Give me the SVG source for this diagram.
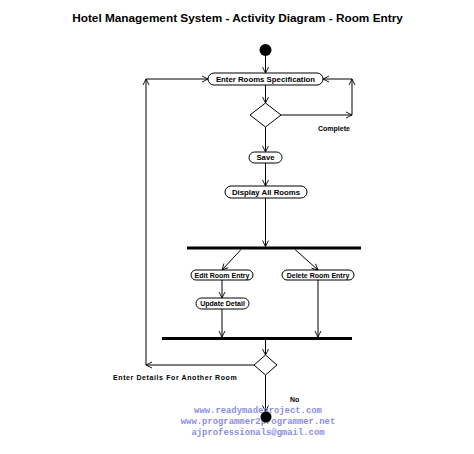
<svg xmlns="http://www.w3.org/2000/svg" width="474" height="454" viewBox="0 0 474 454">
<style>
.t{font-family:"Liberation Sans",Arial,sans-serif;font-weight:bold;fill:#000}
.title{font-size:11.8px}
.lbl{font-size:7px}
.node rect{fill:#fff;stroke:#000;stroke-width:1}
.node text{font-family:"Liberation Sans",Arial,sans-serif;font-weight:bold;font-size:7.8px;text-anchor:middle}
.node text.s{font-size:7px}
.c line{stroke:#000;stroke-width:1;fill:none;marker-end:url(#a)}
.bar{fill:#000}
.wm{font-family:"Liberation Mono","Courier New",monospace;font-weight:bold;font-size:8.9px;fill:#8c8ce6;text-anchor:middle}
</style>
<defs>
<marker id="a" markerWidth="8" markerHeight="8" refX="7" refY="4" orient="auto" markerUnits="userSpaceOnUse">
<path d="M1,1 L7,4 L1,7" fill="none" stroke="#000" stroke-width="0.9"/>
</marker>
</defs>
<text class="t title" x="237.5" y="22" text-anchor="middle">Hotel Management System - Activity Diagram - Room Entry</text>

<g id="start"><circle cx="265.5" cy="50" r="6" fill="#000"/></g>
<g id="enter" class="node"><rect x="208" y="73" width="115" height="12" rx="6"/><text x="265.5" y="81.8">Enter Rooms Specification</text></g>
<g id="dec1"><polygon points="265.5,103 281,115 265.5,127 250,115" fill="#fff" stroke="#000"/></g>
<g id="save" class="node"><rect x="249" y="152" width="33" height="11" rx="5.5"/><text x="265.5" y="160.3">Save</text></g>
<g id="display" class="node"><rect x="225" y="186" width="82" height="12" rx="6"/><text x="266" y="194.8">Display All Rooms</text></g>
<g id="fork"><rect class="bar" x="187" y="246.5" width="174" height="3"/></g>
<g id="edit" class="node"><rect x="191" y="270" width="62" height="10" rx="5"/><text class="s" x="222" y="277.5">Edit Room Entry</text></g>
<g id="delete" class="node"><rect x="282" y="270" width="72" height="10" rx="5"/><text class="s" x="318" y="277.5">Delete Room Entry</text></g>
<g id="update" class="node"><rect x="196" y="298" width="53" height="11" rx="5.5"/><text class="s" x="222.5" y="306">Update Detail</text></g>
<g id="join"><rect class="bar" x="162" y="337" width="190" height="3"/></g>
<g id="dec2"><polygon points="265.5,355 277,365 265.5,375 254,365" fill="#fff" stroke="#000"/></g>

<g id="connectors" class="c">
<line x1="265.5" y1="56" x2="265.5" y2="73"/>
<line x1="265.5" y1="85" x2="265.5" y2="103"/>
<line x1="281" y1="115" x2="352" y2="115"/>
<line x1="352" y1="115" x2="352" y2="79"/>
<line x1="352" y1="79" x2="323" y2="79"/>
<line x1="265.5" y1="127" x2="265.5" y2="152"/>
<line x1="265.5" y1="163" x2="265.5" y2="186"/>
<line x1="265.5" y1="198" x2="265.5" y2="246.5"/>
<line x1="241" y1="249.5" x2="222" y2="270"/>
<line x1="295" y1="249.5" x2="318" y2="270"/>
<line x1="222" y1="280" x2="222" y2="298"/>
<line x1="222" y1="309" x2="222" y2="337"/>
<line x1="318" y1="280" x2="318" y2="337"/>
<line x1="265.5" y1="340" x2="265.5" y2="355"/>
<line x1="254" y1="365" x2="146" y2="365"/>
<line x1="146" y1="365" x2="146" y2="79"/>
<line x1="146" y1="79" x2="208" y2="79"/>
<line x1="265.5" y1="375" x2="265.5" y2="411.5"/>
</g>

<text class="t lbl" x="318" y="130.5">Complete</text>
<text class="t lbl" x="113" y="379.5" letter-spacing="0.6">Enter Details For Another Room</text>
<text class="t lbl" x="290" y="402">No</text>

<text class="wm" x="258" y="413">www.readymadeproject.com</text>
<text class="wm" x="258" y="424">www.programmer2programmer.net</text>
<text class="wm" x="258" y="435">ajprofessionals@gmail.com</text>
<g id="end"><circle cx="266" cy="417" r="5.5" fill="#000"/></g>
</svg>
